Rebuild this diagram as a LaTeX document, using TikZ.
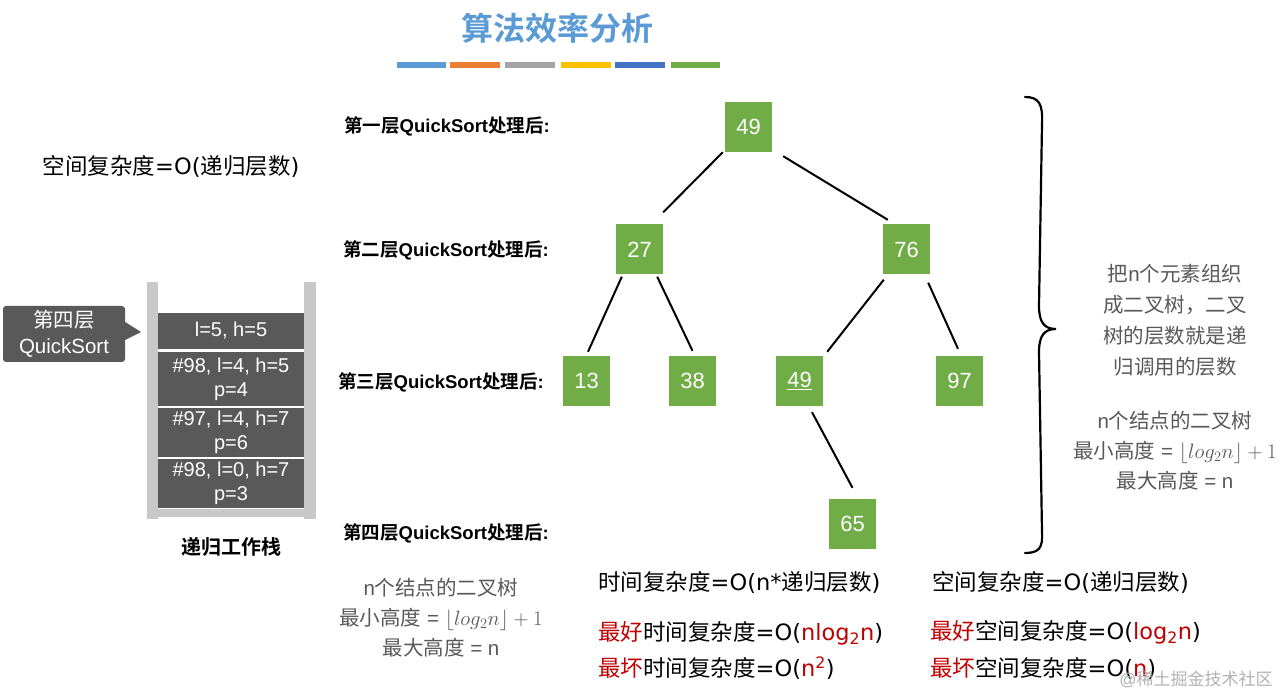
\documentclass[tikz,border=0pt]{standalone}
\usepackage{fontspec}
\setmainfont{Liberation Sans}
\newfontfamily\cjkfont{Noto Sans CJK SC}[BoldFont={Noto Sans CJK SC Bold}]
\newfontfamily\latf{DejaVu Sans}
\newcommand\cj[1]{{\cjkfont #1}}
\definecolor{tgreen}{HTML}{70AD47}
\definecolor{dgray}{HTML}{595959}
\definecolor{postgray}{HTML}{C8C8C8}
\definecolor{tgray}{HTML}{595959}
\definecolor{bred}{HTML}{C00000}
\definecolor{tblue}{HTML}{5B9BD5}
\definecolor{barA}{HTML}{5B9BD5}
\definecolor{barB}{HTML}{ED7D31}
\definecolor{barC}{HTML}{A5A5A5}
\definecolor{barD}{HTML}{FFC000}
\definecolor{barE}{HTML}{4472C4}
\definecolor{barF}{HTML}{70AD47}
\begin{document}
\begin{tikzpicture}[x=1pt,y=-1pt,
  tnode/.style={fill=tgreen,minimum width=47pt,minimum height=50pt,inner sep=0pt,text=white,font=\fontsize{22}{22}\selectfont},
  edge/.style={line width=2pt,black},
  layer/.style={inner sep=0pt,font=\fontsize{18.5}{18.5}\selectfont\bfseries},
  stackbox/.style={fill=dgray,text=white,minimum width=146pt,inner sep=0pt,align=center,font=\fontsize{20}{24}\selectfont},
  graytext/.style={inner sep=0pt,align=center,text=tgray,font=\fontsize{20.5}{30}\selectfont},
  fml/.style={inner sep=0pt,anchor=west,font=\fontsize{22.5}{24}\selectfont\latf}
]
\fill[white] (0,0) rectangle (1282,692);
\useasboundingbox (0,0) rectangle (1282,692);

% title and colour bars
\node[inner sep=0pt,text=tblue,font=\fontsize{32}{32}\selectfont\bfseries] (title) at (557,28) {\cj{算法效率分析}};
\fill[barA] (397,62) rectangle (446,68);
\fill[barB] (450,62) rectangle (500,68);
\fill[barC] (505,62) rectangle (555,68);
\fill[barD] (561,62) rectangle (611,68);
\fill[barE] (615,62) rectangle (665,68);
\fill[barF] (671,62) rectangle (720,68);

% top-left text
\node[inner sep=0pt,font=\fontsize{22.5}{24}\selectfont\latf] (spaceL) at (171,166) {\cj{空间复杂度}=O(\cj{递归层数})};

% layer labels
\node[layer] (L1) at (447,126) {\cj{第一层}QuickSort\cj{处理后}:};
\node[layer] (L2) at (446,250) {\cj{第二层}QuickSort\cj{处理后}:};
\node[layer] (L3) at (441,382) {\cj{第三层}QuickSort\cj{处理后}:};
\node[layer] (L4) at (446,533) {\cj{第四层}QuickSort\cj{处理后}:};

% tree
\node[tnode] (n49) at (748.5,127) {49};
\node[tnode] (n27) at (639.5,249.5) {27};
\node[tnode] (n76) at (906.5,249.5) {76};
\node[tnode] (n13) at (586.5,381) {13};
\node[tnode] (n38) at (692.5,381) {38};
\node[tnode] (n49b) at (799.5,381) {\underline{49}};
\node[tnode] (n97) at (959.5,381) {97};
\node[tnode] (n65) at (852.5,524) {65};

\draw[edge] ([xshift=-2pt]n49.south west) -- ([yshift=12pt]n27.north east);
\draw[edge] ([xshift=11pt,yshift=-4pt]n49.south east) -- ([xshift=5pt,yshift=4.5pt]n76.north west);
\draw[edge] ([xshift=6pt,yshift=-2pt]n27.south west) -- ([xshift=1.5pt,yshift=4pt]n13.north);
\draw[edge] ([xshift=-6pt,yshift=-2pt]n27.south east) -- ([yshift=5pt]n38.north);
\draw[edge] ([xshift=1pt,yshift=-5pt]n76.south west) -- ([xshift=4pt,yshift=4pt]n49b.north east);
\draw[edge] ([xshift=-2pt,yshift=-8pt]n76.south east) -- ([xshift=-1.5pt,yshift=7pt]n97.north);
\draw[edge] ([xshift=12.5pt,yshift=-6pt]n49b.south) -- ([yshift=11pt]n65.north);

% brace
\draw[line width=2.2pt,line cap=round]
  (1025,97) .. controls (1039,97) and (1043,104) .. (1042,124)
  -- (1039,306) .. controls (1039,322) and (1044,329) .. (1056,329)
  .. controls (1044,329) and (1039,336) .. (1039,352)
  -- (1042,532) .. controls (1043,548) and (1039,553) .. (1025,553);

% right texts
\node[graytext,font=\fontsize{20.5}{31}\selectfont] (R1) at (1175,320) {\cj{把}n\cj{个元素组织}\\\cj{成二叉树，二叉}\\\cj{树的层数就是递}\\\cj{归调用的层数}};
\node[graytext] (R2) at (1175,450.5) {n\cj{个结点的二叉树}\\\cj{最小高度} = $\lfloor log_2n\rfloor+1$\\\cj{最大高度} = n};

% stack
\fill[postgray] (147,282) rectangle (158,519);
\fill[postgray] (304,282) rectangle (316,519);
\fill[postgray] (158,509) rectangle (304,517);
\node[stackbox,minimum height=36pt] (s1) at (231,331) {l=5, h=5};
\node[stackbox,minimum height=54pt] (s2) at (231,379) {\#98, l=4, h=5\\p=4};
\node[stackbox,minimum height=49pt] (s3) at (231,432.5) {\#97, l=4, h=7\\p=6};
\node[stackbox,minimum height=49pt] (s4) at (231,483.5) {\#98, l=0, h=7\\p=3};
\node[inner sep=0pt,font=\fontsize{20}{20}\selectfont\bfseries] (stacklab) at (231,547) {\cj{递归工作栈}};

% callout
\node[fill=dgray,rounded corners=3pt,minimum width=122pt,minimum height=56pt,inner sep=0pt,text=white,align=center,font=\fontsize{20.5}{26}\selectfont] (callout) at (64,334) {\cj{第四层}\\QuickSort};
\coordinate (ctip) at (141,332);
\fill[dgray] ([yshift=12pt]callout.east) -- (ctip) -- ([yshift=-6pt]callout.east) -- cycle;

% bottom left text
\node[graytext] (BL) at (441,618) {n\cj{个结点的二叉树}\\\cj{最小高度} = $\lfloor log_2n\rfloor+1$\\\cj{最大高度} = n};

% bottom formulas
\node[fml] (t1) at (598,582) {\cj{时间复杂度}=O(n*\cj{递归层数})};
\node[fml] (t2) at (598,633) {\textcolor{bred}{\cj{最好}}\cj{时间复杂度}=O(\textcolor{bred}{nlog\textsubscript{2}n})};
\node[fml] (t3) at (598,668) {\textcolor{bred}{\cj{最坏}}\cj{时间复杂度}=O(\textcolor{bred}{n\textsuperscript{2}})};
\node[fml] (p1) at (932,582) {\cj{空间复杂度}=O(\cj{递归层数})};
\node[fml] (p2) at (930,632) {\textcolor{bred}{\cj{最好}}\cj{空间复杂度}=O(\textcolor{bred}{log\textsubscript{2}n})};
\node[fml] (p3) at (930,668) {\textcolor{bred}{\cj{最坏}}\cj{空间复杂度}=O(\textcolor{bred}{n})};

% watermark
\node[inner sep=0pt,text=black!30,font=\fontsize{17}{17}\selectfont] (wm) at (1196,679) {@\cj{稀土掘金技术社区}};
\end{tikzpicture}
\end{document}
